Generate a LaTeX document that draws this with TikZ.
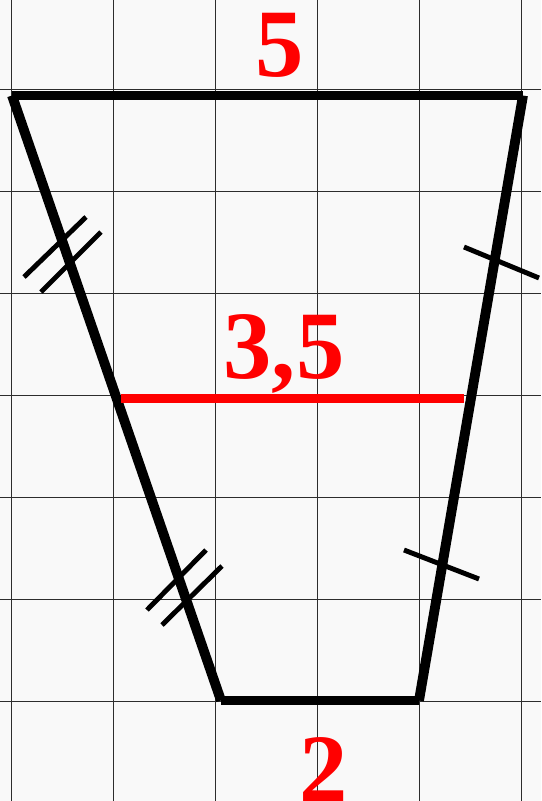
\documentclass[tikz,border=0pt]{standalone}
\usepackage{fontspec}
\setmainfont{Liberation Serif}
\usepackage{xcolor}
\definecolor{markred}{RGB}{255,0,0}
\definecolor{gridgray}{RGB}{45,45,45}
\definecolor{paper}{RGB}{249,249,249}

\begin{document}
\begin{tikzpicture}[x=0.02cm, y=-0.02cm,
      gridline/.style={gridgray, line width=0.8pt},
      side/.style={black, line width=5.6pt},
      tick/.style={black, line width=2.8pt},
      midline/.style={markred, line width=5pt},
      lbl/.style={markred, anchor=base, inner sep=0pt,
                  font=\fontsize{55pt}{60pt}\selectfont\bfseries}
    ]
    % paper and grid
    \fill[paper] (0,0) rectangle (541,801);
    \useasboundingbox (0,0) rectangle (541,801);
    \foreach \k in {0,...,5}{ \draw[gridline] (11.4+102*\k,0) -- (11.4+102*\k,801); }
    \foreach \k in {0,...,6}{ \draw[gridline] (0,89.5+102*\k) -- (541,89.5+102*\k); }

    % trapezoid
    \coordinate (A) at (12,95.5);
    \coordinate (B) at (523,95.5);
    \coordinate (C) at (419,700.5);
    \coordinate (D) at (221,700.5);
    \draw[side] (A) -- (B);
    \draw[side] (B) -- (C);
    \draw[side] (C) -- (D);
    \draw[side] (D) -- (A);

    % midline
    \coordinate (M1) at (121,398.5);
    \coordinate (M2) at (464,398.5);
    \draw[midline] (M1) -- (M2);

    % equal-length marks
    \draw[tick] (24,277) -- (86,217);
    \draw[tick] (41,292) -- (101,232);
    \draw[tick] (147,610) -- (206,550);
    \draw[tick] (162,625) -- (222,566);
    \draw[tick] (464,247) -- (539,278);
    \draw[tick] (404,550) -- (479,579);

    % lengths
    \node[lbl] (top) at (280,76) {5};
    \node[lbl] (mid) at (284,378) {3,5};
    \node[lbl] (bot) at (324,801) {2};
  \end{tikzpicture}
\end{document}
